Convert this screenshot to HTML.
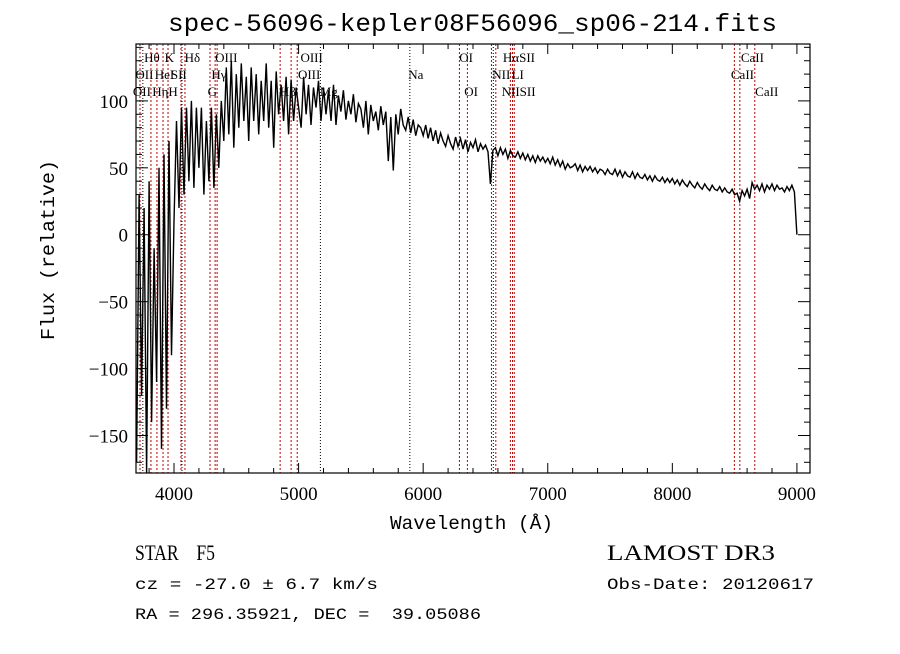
<!DOCTYPE html>
<html><head><meta charset="utf-8"><style>
body{margin:0;background:#fff;width:900px;height:649px;overflow:hidden}
svg text{fill:#000}
</style></head><body>
<svg id="chart" width="900" height="649" xmlns="http://www.w3.org/2000/svg">
<rect width="900" height="649" fill="#fff"/>
<text x="168" y="31" textLength="609" lengthAdjust="spacingAndGlyphs" font-family="Liberation Mono, monospace" font-size="25">spec-56096-kepler08F56096_sp06-214.fits</text>
<g id="lines"></g>
<g id="labels" font-family="Liberation Serif, serif" font-size="13"></g>
<polyline id="spec" fill="none" stroke="#000" stroke-width="1.4" stroke-linejoin="miter"/>
<rect x="136" y="44" width="674" height="429" fill="none" stroke="#000" stroke-width="1.2"/>
<g id="axes"></g>
<text x="390" y="529" textLength="163" lengthAdjust="spacingAndGlyphs" font-family="Liberation Mono, monospace" font-size="19">Wavelength (Å)</text>
<text transform="translate(54,340) rotate(-90)" textLength="180" lengthAdjust="spacingAndGlyphs" font-family="Liberation Mono, monospace" font-size="19">Flux (relative)</text>
<text x="135" y="560" textLength="80" lengthAdjust="spacingAndGlyphs" font-family="Liberation Serif, serif" font-size="22" xml:space="preserve">STAR    F5</text>
<text x="607" y="560" textLength="168" lengthAdjust="spacingAndGlyphs" font-family="Liberation Serif, serif" font-size="22">LAMOST DR3</text>
<text x="135" y="589" textLength="243" lengthAdjust="spacingAndGlyphs" font-family="Liberation Mono, monospace" font-size="16">cz = -27.0 ± 6.7 km/s</text>
<text x="607" y="589" textLength="207" lengthAdjust="spacingAndGlyphs" font-family="Liberation Mono, monospace" font-size="16">Obs-Date: 20120617</text>
<text x="135" y="619" textLength="346" lengthAdjust="spacingAndGlyphs" font-family="Liberation Mono, monospace" font-size="16" xml:space="preserve">RA = 296.35921, DEC =  39.05086</text>
</svg>
<script>
const wlStart = 3700, wlStep = 20;
const flux = [-170,30,-120,20,-178,40,-140,-10,-110,50,-160,60,-130,70,-90,
10,85,20,95,30,95,40,100,35,95,50,95,30,85,40,95,35,90,50,100,
70,125,75,130,65,120,80,128,85,118,70,125,85,120,75,115,85,128,80,115,65,122,90,112,85,118,75,116,85,110,
95,80,118,90,112,82,110,95,115,85,110,90,108,85,112,82,104,92,108,86,100,90,105,84,98,
94,80,100,75,97,85,92,78,96,82,92,55,88,48,90,75,94,82,78,88,76,86,74,82,80,
74,82,72,80,70,78,68,76,70,66,74,68,64,73,66,72,64,71,62,69,65,71,62,68,64,
67,62,38,63,65,59,65,60,64,57,63,59,58,62,57,61,56,60,55,59,54,59,55,58,54,
57,53,58,52,56,51,55,49,53,50,51,53,48,52,47,51,48,51,47,50,46,49,48,45,49,
46,45,49,44,48,43,47,44,43,47,42,46,43,42,45,41,44,40,44,41,40,43,39,42,39,
42,38,41,37,41,38,36,40,37,35,39,36,34,38,35,33,37,34,33,36,32,35,32,31,34,
30,31,25,33,29,34,27,39,34,37,33,38,32,37,34,38,33,37,34,35,32,36,33,37,32,0];
const redLines = [3727,3815,3863,3912,3952,4056,4088,4289,4330,4346,4852,4940,4989,6291,6355,6548,6583,6700,6717,6731,8498,8542,8662];
const blackLines = [3750,4064,5175,5893,6563];
const labelNames = ["Hθ","K","Hδ","OIII","OIII","OI","HαSII","CaII","OII","HeI","SII","Hγ","OIII","Na","NII","LI","CaII","OII","Hη","H","G","Hβ","Mg","OI","NIISII","CaII"];
const labelWl = [3760,3925,4085,4330,5015,6290,6640,8550,3690,3845,3975,4300,4995,5880,6555,6710,8470,3670,3825,3955,4270,4850,5170,6330,6630,8665];
const labelRow = [0,0,0,0,0,0,0,0,1,1,1,1,1,1,1,1,1,2,2,2,2,2,2,2,2,2];
const xTicks = [4000,5000,6000,7000,8000,9000];
const yTicks = [-150,-100,-50,0,50,100];
const X0=3695,X1=9105,Y0=-178,Y1=142.5;
const L=136,R=810,T=44,B=473;
const sx = w => L+(w-X0)/(X1-X0)*(R-L);
const sy = f => B-(Math.max(Y0,Math.min(Y1,f))-Y0)/(Y1-Y0)*(B-T);
const NS="http://www.w3.org/2000/svg";
function mk(tag,attrs,parent){const e=document.createElementNS(NS,tag);for(const k in attrs)e.setAttribute(k,attrs[k]);parent.appendChild(e);return e;}
const lg=document.getElementById('lines');
redLines.forEach(w=>{const e=mk('line',{x1:sx(w),x2:sx(w),y1:T,y2:B,stroke:'#c00000','stroke-width':1,'stroke-dasharray':'2,2'},lg);

});
blackLines.forEach(w=>{const e=mk('line',{x1:sx(w),x2:sx(w),y1:T,y2:B,stroke:'#000','stroke-width':1,'stroke-dasharray':'1,2'},lg);

});
const lab=document.getElementById('labels');
labelNames.forEach((n,i)=>{const e=mk('text',{x:sx(labelWl[i]),y:62+labelRow[i]*17},lab);e.textContent=n;

});
document.getElementById('spec').setAttribute('points',flux.map((f,i)=>sx(wlStart+i*wlStep).toFixed(1)+','+sy(f).toFixed(1)).join(' '));
const ax=document.getElementById('axes');
for(let w=3800;w<=9100;w+=200){const maj=w%1000===0;const h=maj?10:5;
mk('line',{x1:sx(w),x2:sx(w),y1:B,y2:B-h,stroke:'#000'},ax);mk('line',{x1:sx(w),x2:sx(w),y1:T,y2:T+h,stroke:'#000'},ax);}
xTicks.forEach(w=>{const e=mk('text',{x:sx(w),y:B+27,'text-anchor':'middle','font-family':'Liberation Serif, serif','font-size':19},ax);e.textContent=w;

});
for(let f=-170;f<=140;f+=10){const maj=f%50===0;const h=maj?12:6;
mk('line',{x1:L,x2:L+h,y1:sy(f),y2:sy(f),stroke:'#000'},ax);mk('line',{x1:R,x2:R-h,y1:sy(f),y2:sy(f),stroke:'#000'},ax);}
yTicks.forEach(f=>{const e=mk('text',{x:L-8,y:sy(f)+7,'text-anchor':'end','font-family':'Liberation Serif, serif','font-size':19},ax);e.textContent=f<0?'−'+(-f):f;

});
</script>
</body></html>
